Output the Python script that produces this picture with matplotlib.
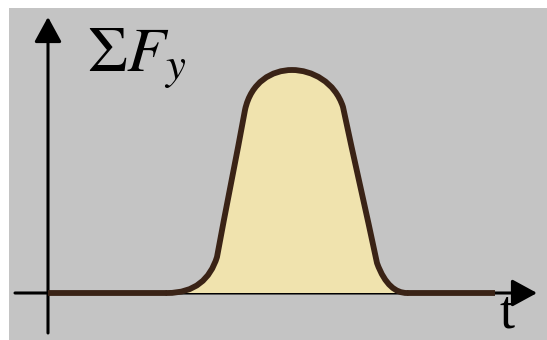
"""Impulse sketch: net vertical force vs time, filled pulse."""
import matplotlib

matplotlib.use("Agg")

import matplotlib.pyplot as plt
from matplotlib.patches import PathPatch, Rectangle
from matplotlib.path import Path

plt.rcParams["mathtext.fontset"] = "stix"

# pulse outline: (t, F) vertices, cubic bezier segments after the first point
pulse_t = [119, 147, 162, 169, 178, 188, 197, 203, 224, 244, 264, 287, 295, 306, 318, 329, 337, 348, 359]
pulse_f = [0, 0, 14, 36, 85, 134, 183, 211, 223, 223, 223, 211, 186, 134, 82, 30, 8, 0, 0]
flat_left = [0, 119]
flat_right = [359, 447]

axis_x = (-33, 489)   # horizontal axis extent, arrow at the right end
axis_y = (-40, 276)   # vertical axis extent, arrow at the top

bg = "#c4c4c4"
fill_col = "#f0e3ae"
edge_col = "#3a2316"

fig = plt.figure(figsize=(5.47, 3.40), dpi=100, facecolor="white")
ax = fig.add_axes([9 / 547, 0, 538 / 547, 332 / 340])
ax.set_facecolor(bg)
ax.set_xlim(-39, 499)
ax.set_ylim(-47, 285)
ax.axis("off")
ax.add_patch(Rectangle((0, 0), 1, 1, transform=ax.transAxes, color=bg, zorder=0))

# axes with arrows
arrow = dict(arrowstyle="-|>,head_length=0.55,head_width=0.3", mutation_scale=28,
             lw=2.2, color="black", shrinkA=0, shrinkB=0)
ax.annotate("", xy=(axis_x[1], 0), xytext=(axis_x[0], 0), arrowprops=arrow, zorder=2)
ax.annotate("", xy=(0, axis_y[1]), xytext=(0, axis_y[0]), arrowprops=arrow, zorder=2)

# filled pulse
verts = list(zip(pulse_t, pulse_f))
codes = [Path.MOVETO] + [Path.CURVE4] * (len(verts) - 1)
# segments 169->197 and 295->329 are straight, drawn as degenerate cubics
fill_path = Path(verts + [(pulse_t[0], 0)], codes + [Path.LINETO])
ax.add_patch(PathPatch(fill_path, facecolor=fill_col, edgecolor="none", zorder=3))
ax.add_patch(PathPatch(Path(verts, codes), facecolor="none", edgecolor=edge_col,
                       lw=4.2, capstyle="round", joinstyle="round", zorder=4))
ax.plot(flat_left, [0, 0], color=edge_col, lw=4.2, solid_capstyle="butt", zorder=4)
ax.plot(flat_right, [0, 0], color=edge_col, lw=4.2, solid_capstyle="butt", zorder=4)

ax.text(39, 221, r"$\Sigma F_y$", fontsize=46, ha="left", va="baseline", color="black", zorder=5)
ax.text(459, -34, "t", fontsize=39, family="Liberation Serif", ha="center", va="baseline",
        color="black", zorder=5)

fig.savefig("out.png", dpi=100, facecolor="white")
